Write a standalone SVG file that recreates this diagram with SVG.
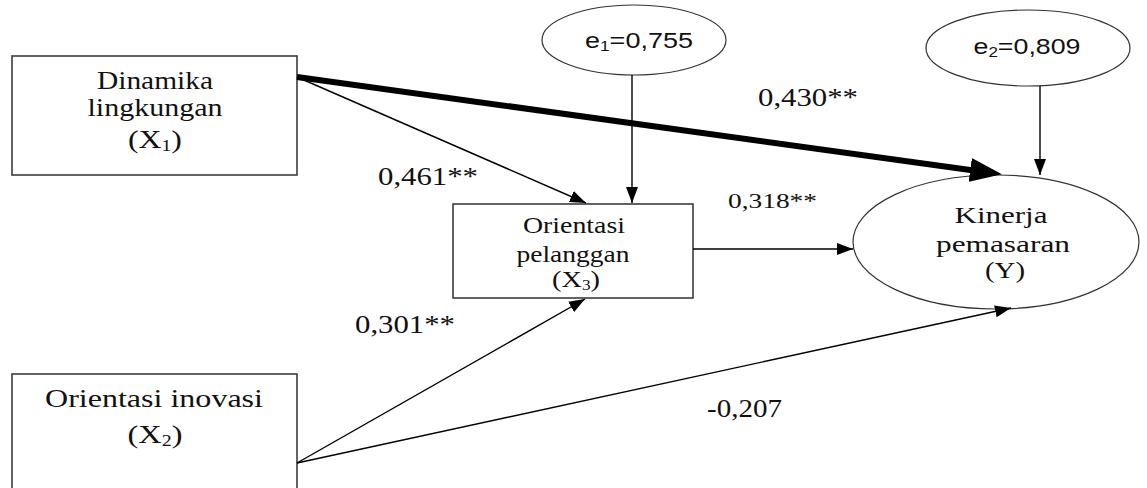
<svg xmlns="http://www.w3.org/2000/svg" width="1147" height="488" viewBox="0 0 1147 488">
<defs>
<style>
.box{fill:#fff;stroke:#3c3c3c;stroke-width:1.6}
.ell{fill:#fff;stroke:#333;stroke-width:1.2}
.t{font-family:"Liberation Serif","Times New Roman",serif;fill:#111;text-anchor:middle}
.s{font-family:"Liberation Sans",Arial,sans-serif;fill:#111;text-anchor:middle}
.lbl{font-family:"Liberation Serif","Times New Roman",serif;fill:#111}
.ln{stroke:#000;stroke-width:1.4;fill:none}
.thick{stroke:#000;stroke-width:6;fill:none}
</style>
<marker id="ah" markerUnits="userSpaceOnUse" markerWidth="17" markerHeight="12" refX="16" refY="6" orient="auto">
<path d="M0,0 L16,6 L0,12 z" fill="#000"/>
</marker>
<marker id="ahb" markerUnits="userSpaceOnUse" markerWidth="33" markerHeight="24" refX="22" refY="12" orient="auto">
<path d="M0,0 L32,12 L0,24 z" fill="#000"/>
</marker>
</defs>

<g id="x1">
<rect class="box" x="12" y="56" width="285" height="119"/>
<text class="t" x="155" y="89" font-size="26" textLength="116" lengthAdjust="spacingAndGlyphs">Dinamika</text>
<text class="t" x="155" y="116" font-size="26" textLength="135" lengthAdjust="spacingAndGlyphs">lingkungan</text>
<text class="t" x="155" y="148" font-size="26" textLength="54" lengthAdjust="spacingAndGlyphs">(X<tspan font-size="16" dy="3">1</tspan><tspan dy="-3">)</tspan></text>
</g>

<g id="x2">
<rect class="box" x="12" y="374" width="285" height="130"/>
<text class="t" x="154" y="407" font-size="26" textLength="218" lengthAdjust="spacingAndGlyphs">Orientasi inovasi</text>
<text class="t" x="155" y="443" font-size="26" textLength="55" lengthAdjust="spacingAndGlyphs">(X<tspan font-size="16" dy="3">2</tspan><tspan dy="-3">)</tspan></text>
</g>

<g id="x3">
<rect class="box" x="453" y="204" width="240" height="94"/>
<text class="t" x="574" y="233" font-size="23" textLength="102" lengthAdjust="spacingAndGlyphs">Orientasi</text>
<text class="t" x="573" y="262" font-size="23" textLength="113" lengthAdjust="spacingAndGlyphs">pelanggan</text>
<text class="t" x="576" y="287" font-size="23" textLength="48" lengthAdjust="spacingAndGlyphs">(X<tspan font-size="14" dy="3">3</tspan><tspan dy="-3">)</tspan></text>
</g>

<g id="y">
<ellipse class="ell" cx="996" cy="242" rx="143" ry="67"/>
<text class="t" x="1001" y="223" font-size="24" textLength="93" lengthAdjust="spacingAndGlyphs">Kinerja</text>
<text class="t" x="1003" y="252" font-size="24" textLength="134" lengthAdjust="spacingAndGlyphs">pemasaran</text>
<text class="t" x="1005" y="278" font-size="24" textLength="40" lengthAdjust="spacingAndGlyphs">(Y)</text>
</g>

<g id="e1">
<ellipse class="ell" cx="634" cy="40" rx="92" ry="35"/>
<text class="s" x="639" y="48" font-size="22" textLength="108" lengthAdjust="spacingAndGlyphs">e<tspan font-size="14" dy="3">1</tspan><tspan dy="-3">=0,755</tspan></text>
</g>

<g id="e2">
<ellipse class="ell" cx="1028" cy="48" rx="102" ry="38"/>
<text class="s" x="1027" y="54" font-size="22" textLength="107" lengthAdjust="spacingAndGlyphs">e<tspan font-size="14" dy="3">2</tspan><tspan dy="-3">=0,809</tspan></text>
</g>

<g id="connectors">
<line class="thick" x1="297" y1="77" x2="992" y2="173" marker-end="url(#ahb)"/>
<line class="ln" x1="297" y1="77" x2="586" y2="203" marker-end="url(#ah)"/>
<line class="ln" x1="632" y1="75" x2="632" y2="203" marker-end="url(#ah)"/>
<line class="ln" x1="1040" y1="86" x2="1040" y2="175" marker-end="url(#ah)"/>
<line class="ln" x1="693" y1="249" x2="853" y2="249" marker-end="url(#ah)"/>
<line class="ln" x1="297" y1="463" x2="585" y2="299" marker-end="url(#ah)"/>
<line class="ln" x1="297" y1="463" x2="1011" y2="308" marker-end="url(#ah)"/>
</g>

<g id="labels">
<text class="lbl" x="758" y="106" font-size="26" textLength="100" lengthAdjust="spacingAndGlyphs">0,430**</text>
<text class="lbl" x="378" y="185" font-size="26" textLength="100" lengthAdjust="spacingAndGlyphs">0,461**</text>
<text class="lbl" x="728" y="208" font-size="20" textLength="89" lengthAdjust="spacingAndGlyphs">0,318**</text>
<text class="lbl" x="355" y="333" font-size="26" textLength="100" lengthAdjust="spacingAndGlyphs">0,301**</text>
<text class="lbl" x="707" y="417" font-size="26" textLength="75" lengthAdjust="spacingAndGlyphs">-0,207</text>
</g>
</svg>
